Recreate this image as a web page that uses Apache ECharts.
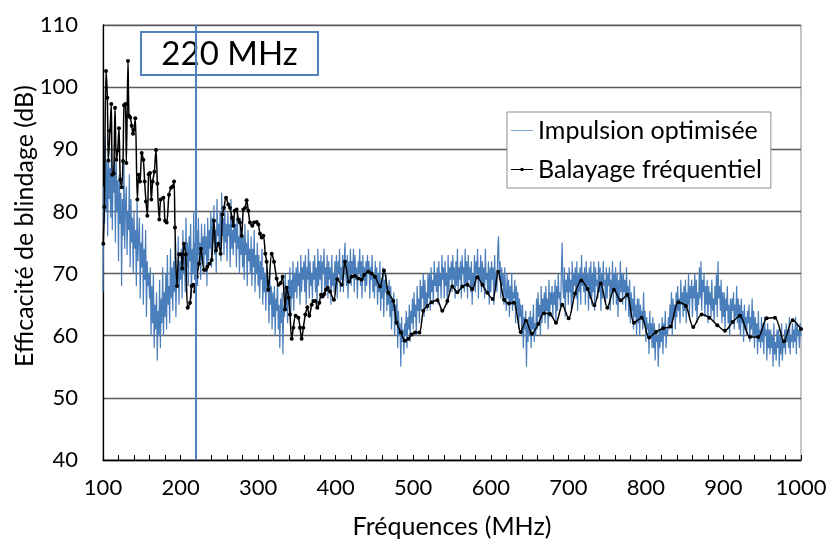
<!DOCTYPE html>
<html>
<head>
<meta charset="utf-8">
<script src="https://cdn.jsdelivr.net/npm/echarts@6/dist/echarts.min.js"></script>
<style>html,body{margin:0;padding:0;background:#fff}#c{width:830px;height:544px}</style>
</head>
<body>
<div id="c"></div>
<script>
// ---- Data ----
const xTickLabels = [100,200,300,400,500,600,700,800,900,1000];
const yTickLabels = [40,50,60,70,80,90,100,110];
const markerMHz = 220;
const markerLabel = '220 MHz';
const seriesNames = ['Impulsion optimisée', 'Balayage fréquentiel'];

// Impulsion optimisée: sampled every 1 MHz from 100 MHz (one row = 10 MHz)
const blueStartMHz = 100;
const blueStepMHz = 1;
const blueDb = [
67,84,78,92,80,88,76,90,82,87,
79,91,77,86,83,89,75,88,80,85,
72,86,78,83,68,82,76,88,74,81,
84,73,80,77,86,71,82,75,79,70,
80,74,77,68,82,72,76,79,66,75,
71,78,65,74,69,77,63,72,68,70,
66,71,60,68,62,70,58,65,61,67,
56,64,60,69,58,66,62,71,60,67,
63,70,61,73,65,68,62,74,66,71,
64,72,67,75,63,70,68,76,65,72,
69,74,66,77,70,73,67,79,71,75,
68,76,72,78,66,74,70,80,69,75,
71,77,68,79,73,75,69,78,72,76,
70,78,73,76,68,79,72,77,74,80,
71,79,75,81,73,77,70,82,76,78,
74,80,72,83,76,79,73,81,75,78,
72,80,76,78,71,82,74,77,73,79,
75,78,71,80,74,76,70,79,73,77,
71,76,69,78,73,75,68,77,72,74,
70,76,68,74,71,77,67,73,70,75,
68,73,66,72,69,74,65,71,67,70,
64,71,67,69,62,70,65,68,61,67,
63,68,60,66,64,69,61,65,58,66,
62,67,57,65,63,70,64,68,62,69,
65,71,63,69,66,72,64,70,67,71,
66,72,68,70,65,73,67,71,69,72,
67,73,65,71,69,74,66,72,68,70,
66,72,69,73,67,71,65,74,68,72,
69,73,66,72,70,74,67,71,68,73,
66,72,69,71,65,73,68,70,67,72,
68,73,66,72,70,74,67,71,69,73,
67,72,75,70,68,73,66,72,69,74,
68,72,70,74,67,73,69,71,66,72,
70,74,68,72,66,73,69,71,67,72,
68,73,70,72,66,71,69,73,67,70,
66,72,68,71,65,70,67,72,64,69,
66,71,63,69,67,70,64,68,65,69,
63,68,61,66,64,67,60,65,62,66,
58,64,60,62,55,63,59,61,57,62,
60,64,58,63,61,65,59,64,62,66,
61,67,63,65,60,68,64,66,62,69,
64,68,66,70,63,69,65,67,64,70,
66,70,64,71,67,69,65,72,68,70,
67,71,65,72,68,70,66,73,69,71,
66,72,68,70,65,73,67,71,69,72,
67,73,69,71,66,72,68,74,67,71,
69,72,66,73,70,71,67,74,68,72,
66,73,69,71,67,72,65,70,68,73,
67,72,70,74,66,71,69,73,67,72,
68,71,66,74,69,70,67,72,65,71,
67,72,69,71,65,73,68,70,67,74,
76,69,72,66,71,68,70,65,71,67,
64,70,66,69,63,68,65,70,64,67,
66,69,62,68,64,67,61,66,63,65,
60,65,58,63,61,64,55,62,59,63,
60,64,58,63,61,65,59,62,60,66,
61,67,63,65,60,68,62,66,64,67,
62,68,64,66,61,69,63,67,65,68,
63,67,65,69,62,68,64,70,66,67,
64,70,75,68,66,71,63,69,67,70,
65,71,67,69,64,72,66,70,68,71,
66,72,64,70,67,71,65,73,68,70,
67,71,65,72,68,70,64,71,66,72,
65,70,67,72,64,71,68,69,66,72,
67,71,64,70,66,72,68,69,65,71,
66,70,68,71,64,69,67,72,65,70,
67,71,65,70,63,69,66,72,67,70,
65,70,67,69,64,71,66,68,63,69,
62,67,64,66,61,68,63,65,60,66,
62,66,60,65,63,64,61,67,62,64,
59,63,61,62,57,64,60,62,58,63,
58,62,56,61,59,60,55,62,58,61,
59,63,57,62,60,64,58,61,60,63,
61,65,62,67,60,66,63,65,61,67,
63,68,64,66,62,69,65,67,63,68,
64,69,62,67,65,70,63,68,66,69,
63,68,66,70,64,69,62,67,65,71,
66,72,64,69,67,70,63,68,65,69,
62,68,65,67,63,69,64,66,62,68,
65,70,63,72,66,68,64,69,62,67,
63,67,61,66,64,68,62,65,60,66,
62,66,64,67,61,65,63,68,62,66,
61,65,60,66,62,64,59,65,61,63,
60,64,62,65,59,63,61,66,60,64,
58,63,60,62,57,64,59,61,58,63,
59,62,57,63,60,61,56,62,58,61,
57,61,58,60,55,62,57,59,56,61,
58,61,55,60,57,62,56,59,58,61,
57,62,59,61,58,63,57,60,59,62,
58,61,59,63,57,62,60,61,58,62,
60
];

// Balayage fréquentiel: measured points (MHz, dB)
const blackMHz = [
100.4,101.7,103.9,105.6,106.9,109.0,110.7,112.0,113.8,115.5,117.2,118.9,120.6,122.3,124.1,125.8,127.1,128.8,130.1,132.2,
133.5,135.2,137.0,138.7,140.0,141.7,144.3,146.0,147.7,149.9,152.0,153.7,155.4,157.2,158.9,160.6,162.3,164.0,166.2,168.3,
170.1,172.6,174.4,177.8,180.0,182.1,185.1,187.7,189.8,191.6,192.8,195.4,198.0,200.6,202.3,204.4,206.6,209.2,212.2,214.3,
216.5,218.6,220.8,223.8,226.3,230.2,232.5,234.5,237.1,240.1,243.1,245.7,248.7,251.7,253.9,256.0,258.6,261.6,263.7,266.3,
268.0,269.8,272.3,274.5,276.6,278.8,280.9,283.3,285.2,287.4,289.5,292.5,294.7,298.1,300.3,302.4,304.6,306.7,309.3,311.0,
313.2,317.5,320.5,323.9,326.5,329.1,331.6,334.7,336.8,339.4,341.1,343.3,345.4,348.4,351.9,354.0,356.1,358.3,360.9,363.5,
366.0,369.1,371.2,373.8,376.3,378.9,381.1,383.2,385.4,387.5,389.7,392.7,397.8,402.1,407.7,412.0,417.2,420.6,424.9,429.2,
433.5,436.9,442.1,446.4,450.7,457.2,462.3,467.9,474.3,478.6,484.2,489.4,493.7,498.0,502.3,507.9,513.0,518.2,523.8,531.1,
537.5,544.0,550.4,556.9,563.3,569.8,576.2,582.7,589.1,595.5,602.5,609.5,617.0,623.5,629.9,638.5,645.4,653.1,661.3,668.6,
676.3,684.1,692.2,700.4,708.6,716.7,724.9,733.5,741.7,750.3,758.9,767.5,776.0,784.6,794.5,804.2,813.0,822.4,831.9,841.8,
851.7,861.1,871.9,881.8,892.1,902.0,911.8,921.3,934.2,944.9,955.7,966.4,978.0,989.2,1000
];
const blackDb = [
74.8,80.7,102.6,98.3,88.2,93.0,97.3,85.9,86.1,96.7,88.3,89.8,93.4,85.1,83.9,88.1,97.1,97.3,87.8,104.2,
95.4,95.1,93.8,92.5,93.2,95.0,81.9,85.9,84.8,89.4,88.3,84.8,81.6,79.3,86.0,86.2,81.9,84.8,86.4,89.9,
84.5,78.7,81.9,82.2,78.5,78.2,82.7,83.8,84.0,84.8,77.4,68.0,73.1,73.1,70.8,74.8,73.1,64.5,65.3,68.0,
68.2,67.1,69.5,71.6,74.0,70.6,70.6,71.1,71.6,72.2,78.5,73.7,74.8,73.2,79.5,80.6,82.2,81.1,80.6,79.0,
77.7,80.1,80.3,78.7,78.2,76.1,80.3,80.6,81.8,80.1,78.2,77.7,78.2,78.3,77.9,76.4,75.8,76.1,73.2,71.9,
67.4,73.2,71.9,69.2,68.2,68.5,69.5,64.2,67.7,66.1,63.4,59.5,61.3,63.2,62.9,61.3,59.5,61.3,63.4,64.6,
63.2,65.0,65.6,65.6,64.5,65.3,66.6,66.3,66.7,67.4,67.7,67.1,65.8,69.1,68.2,71.9,68.7,69.5,69.6,69.2,
69.0,69.8,70.3,70.0,69.5,67.9,70.5,66.9,65.6,62.1,60.5,59.2,59.5,60.2,60.5,60.5,64.0,64.8,65.4,65.7,
64.0,65.6,67.9,67.0,67.9,68.2,67.5,69.4,68.2,66.9,65.9,70.3,65.8,65.2,65.3,60.6,62.4,60.3,61.9,63.6,
63.5,62.1,65.0,62.8,66.8,68.9,67.5,64.9,68.4,64.5,67.4,65.7,66.6,62.1,62.9,59.7,60.6,61.2,61.5,65.4,
64.8,61.4,63.4,62.9,61.7,60.8,62.2,63.2,59.8,59.8,62.8,62.9,59.1,62.5,61.1
];

// ---- Chart ----
const FONT = 'Lato';
const blueColor = '#4a7ebb';
const blueData = blueDb.map((v, i) => [blueStartMHz + i * blueStepMHz, v]);
const blackData = blackMHz.map((f, i) => [f, blackDb[i]]);

const chart = echarts.init(document.getElementById('c'), null, {renderer: 'canvas'});
chart.setOption({
  animation: false,
  backgroundColor: '#fff',
  textStyle: {fontFamily: FONT},
  grid: {left: 103, right: 29, top: 25, bottom: 78, show: true, borderColor: '#8c8c8c', borderWidth: 1, backgroundColor: 'transparent'},
  legend: {
    orient: 'vertical', left: 507, top: 112,
    padding: [6, 9, 6, 4], itemGap: 14, itemWidth: 22, itemHeight: 10,
    borderColor: '#8c8c8c', borderWidth: 1, backgroundColor: '#fff',
    textStyle: {fontFamily: FONT, fontSize: 25, color: '#000'},
    data: [
      {name: seriesNames[0], icon: 'path://M0,0 L30,0 L30,1.4 L0,1.4 Z', itemStyle: {color: '#7fa3d3'}},
      {name: seriesNames[1], icon: 'path://M0,2.4 L24,2.4 L24,3.6 L0,3.6 Z M12,1 A2,2 0 1 1 12,5 A2,2 0 1 1 12,1 Z', itemStyle: {color: '#000'}}
    ]
  },
  xAxis: {
    type: 'value', min: xTickLabels[0], max: xTickLabels[xTickLabels.length-1], interval: 100,
    name: 'Fréquences (MHz)', nameLocation: 'middle', nameGap: 54,
    nameTextStyle: {fontFamily: FONT, fontSize: 25, color: '#000'},
    axisLine: {show: true, onZero: false, lineStyle: {color: '#000', width: 1.3}},
    axisTick: {show: true, inside: true, length: 5, lineStyle: {color: '#000'}},
    minorTick: {show: true, splitNumber: 5, length: 5, lineStyle: {color: '#000'}},
    splitLine: {show: false},
    axisLabel: {fontFamily: FONT, fontSize: 22, color: '#000', margin: 17, formatter: v => String(v)}
  },
  yAxis: {
    type: 'value', min: yTickLabels[0], max: yTickLabels[yTickLabels.length-1], interval: 10,
    axisLine: {show: true, lineStyle: {color: '#000', width: 1.3}},
    axisTick: {show: false},
    splitLine: {show: true, lineStyle: {color: '#5a5a5a', width: 1.3}},
    axisLabel: {fontFamily: FONT, fontSize: 22, color: '#000', margin: 25, formatter: v => String(v)}
  },
  series: [
    {
      name: seriesNames[0], type: 'line', data: blueData, showSymbol: false, symbol: 'none',
      lineStyle: {color: blueColor, width: 1.2}, itemStyle: {color: blueColor},
      markLine: {
        silent: true, symbol: 'none', label: {show: false},
        lineStyle: {color: '#4f81bd', width: 2, type: 'solid'},
        data: [{xAxis: markerMHz}]
      },
      z: 2
    },
    {
      name: seriesNames[1], type: 'line', data: blackData, smooth: 0.3,
      symbol: 'circle', symbolSize: 4, showSymbol: true,
      lineStyle: {color: '#000', width: 1.5}, itemStyle: {color: '#000'},
      z: 3
    }
  ],
  graphic: [
    {
      type: 'text', x: 25, y: 226, rotation: Math.PI / 2,
      style: {text: 'Efficacité de blindage (dB)', font: '25px ' + FONT, fill: '#000', textAlign: 'center', textVerticalAlign: 'middle'}
    },
    {
      type: 'group', z: 100,
      children: [
        {type: 'rect', shape: {x: 141, y: 32, width: 177, height: 43}, style: {fill: '#fff', stroke: '#4f81bd', lineWidth: 2}},
        {type: 'text', x: 229.5, y: 54, style: {text: markerLabel, font: '33px ' + FONT, fill: '#000', textAlign: 'center', textVerticalAlign: 'middle'}}
      ]
    }
  ]
});
</script>
</body>
</html>
